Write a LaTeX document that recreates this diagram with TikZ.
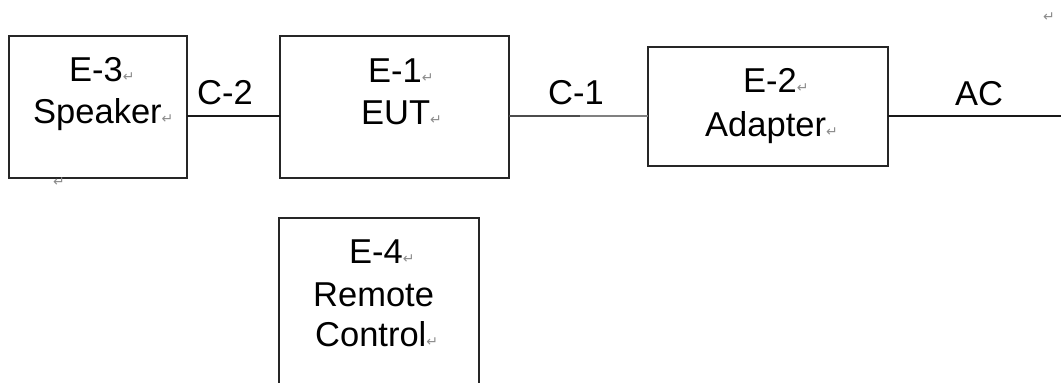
\documentclass[tikz,border=0pt]{standalone}
\usepackage{fontspec}
\setmainfont{Liberation Sans}
\newfontfamily\symfont{DejaVu Sans}
\newcommand\pmark{{\symfont\fontsize{14}{14}\selectfont\textcolor{black!45}{↵}}}
\begin{document}
\begin{tikzpicture}[x=1pt,y=1pt,
  box/.style={draw=black!85, line width=1.8pt, inner sep=0pt, outer sep=0pt},
  wire/.style={draw=black!90, line width=1.6pt},
  darkwire/.style={draw=black!70, line width=1.5pt},
  graywire/.style={draw=black!50, line width=2.2pt},
  txt/.style={anchor=base west, inner sep=0pt, font=\fontsize{34.5}{40}\selectfont},
  mk/.style={anchor=base west, inner sep=0pt}]
\useasboundingbox (0,0) rectangle (1061,383);
\clip (0,0) rectangle (1061,383);
% boxes
\node[box, minimum width=178pt, minimum height=142pt] (e3) at (98,276) {};
\node[box, minimum width=229pt, minimum height=142pt] (e1) at (394.5,276) {};
\node[box, minimum width=240pt, minimum height=119pt] (e2) at (768,276.5) {};
\node[box, minimum width=200pt, minimum height=200pt] (e4) at (379,65) {};
% wire levels
\coordinate (wy) at (0,267);
\coordinate (c1mid) at (580,267);
\coordinate (acend) at (1061,267);
\draw[wire] (e3.east |- wy) -- (e1.west |- wy);
\draw[darkwire] (e1.east |- wy) -- (c1mid);
\draw[graywire] (c1mid) -- (e2.west |- wy);
\draw[wire] (e2.east |- acend) -- (acend);
% connector labels
\node[txt] (lc2) at (197,278) {C-2};
\node[txt] (lc1) at (548,278) {C-1};
\node[txt] (lac) at (955,277) {AC};
% box texts
\node[txt] (t3a) at (69,301) {E-3\pmark};
\node[txt] (t3b) at (33,259) {Speaker\pmark};
\node[txt] (t1a) at (368,300) {E-1\pmark};
\node[txt] (t1b) at (361,258) {EUT\pmark};
\node[txt] (t2a) at (743,290) {E-2\pmark};
\node[txt] (t2b) at (705,246) {Adapter\pmark};
\node[txt] (t4a) at (349,119) {E-4\pmark};
\node[txt] (t4b) at (313,76) {Remote};
\node[txt] (t4c) at (315,36) {Control\pmark};
% stray paragraph marks
\node[mk] (m1) at (1043,361) {\pmark};
\node[mk] (m2) at (53,196) {\pmark};
\end{tikzpicture}
\end{document}
